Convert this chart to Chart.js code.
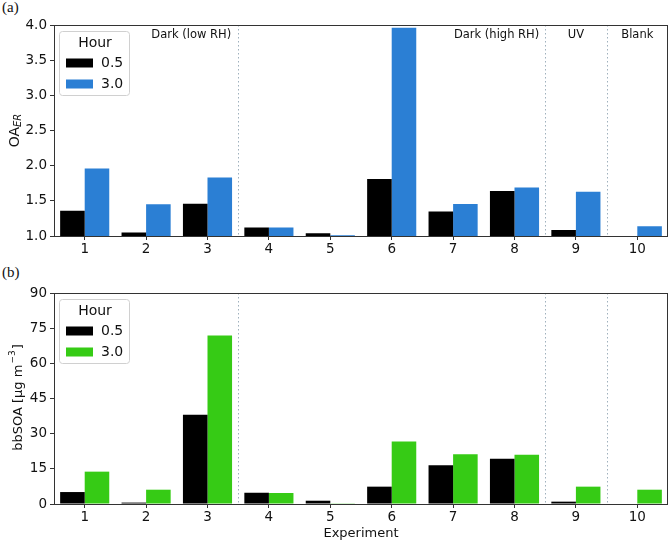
<!DOCTYPE html>
<html>
<head>
<meta charset="utf-8">
<script src="https://cdn.jsdelivr.net/npm/chart.js@4/dist/chart.umd.min.js"></script>
<style>
  html, body { margin: 0; padding: 0; background: #fff; }
  body { width: 670px; height: 543px; position: relative; overflow: hidden; }
  .wrap { position: absolute; left: 0; width: 670px; }
  .panel { position: absolute; left: 2px; font-family: "Liberation Serif", serif; font-size: 15px; color: #111; }
</style>
</head>
<body>
<div class="panel" style="top:-1px;">(a)</div>
<div class="panel" style="top:264px;">(b)</div>
<div class="wrap" style="top:0; height:265px;"><canvas id="c1" width="670" height="265"></canvas></div>
<div class="wrap" style="top:265px; height:278px;"><canvas id="c2" width="670" height="278"></canvas></div>
<script>
// ---- data ----
const experiments = ["1","2","3","4","5","6","7","8","9","10"];
const oaER_05 = [1.36, 1.05, 1.46, 1.12, 1.04, 1.81, 1.35, 1.64, 1.085, null];
const oaER_30 = [1.96, 1.45, 1.83, 1.12, 1.01, 3.96, 1.455, 1.69, 1.63, 1.14];
const bbSOA_05 = [5.1, 0.6, 38.1, 4.8, 1.4, 7.4, 16.5, 19.3, 1.0, null];
const bbSOA_30 = [13.8, 6.1, 71.9, 4.7, 0.3, 26.7, 21.2, 21.0, 7.4, 6.1];
const hourLabels = ["0.5", "3.0"];
const oaTicks = [1.0, 1.5, 2.0, 2.5, 3.0, 3.5, 4.0];
const soaTicks = [0, 15, 30, 45, 60, 75, 90];
const dividerPositions = [3.5, 8.5, 9.5];          // in experiment units
const regionLabels = ["Dark (low RH)", "Dark (high RH)", "UV", "Blank"];

const BLACK = "#000000", BLUE = "#2b7fd4", GREEN = "#36cb15";
const FONT = "'DejaVu Sans', sans-serif";

function expToPixel(xs, e) { return xs.getPixelForValue(e - 1); }

const framePlugin = {
  id: 'frame',
  afterDatasetsDraw(chart, args, opts) {
    const { ctx, chartArea: a, scales } = chart;
    const xs = scales.x;
    ctx.save();
    // dividers
    ctx.strokeStyle = '#9fb0bd';
    ctx.lineWidth = 1;
    ctx.setLineDash([1.5, 2.5]);
    dividerPositions.forEach(d => {
      const px = Math.round(expToPixel(xs, d)) + 0.5;
      ctx.beginPath(); ctx.moveTo(px, a.top); ctx.lineTo(px, a.bottom); ctx.stroke();
    });
    ctx.setLineDash([]);
    // frame
    ctx.strokeStyle = '#333';
    ctx.lineWidth = 1;
    ctx.strokeRect(Math.round(a.left) + 0.5, Math.round(a.top) + 0.5, Math.round(a.right - a.left) - 1, Math.round(a.bottom - a.top));
    // region labels
    if (opts.regions) {
      ctx.fillStyle = '#111';
      ctx.font = "11.5px " + FONT;
      ctx.textBaseline = 'middle';
      const ty = a.top + 10;
      ctx.textAlign = 'right';
      ctx.fillText(regionLabels[0], expToPixel(xs, 3.5) - 7, ty);
      ctx.fillText(regionLabels[1], expToPixel(xs, 8.5) - 6, ty);
      ctx.textAlign = 'center';
      ctx.fillText(regionLabels[2], expToPixel(xs, 9), ty);
      ctx.fillText(regionLabels[3], expToPixel(xs, 10), ty);
    }
    // legend
    const lx = a.left + 5, ly = a.top + 6, lw = 70, lh = 64;
    ctx.fillStyle = 'rgba(255,255,255,0.85)';
    ctx.strokeStyle = '#d0d0d0';
    ctx.lineWidth = 1;
    ctx.beginPath();
    if (ctx.roundRect) ctx.roundRect(lx + 0.5, ly + 0.5, lw, lh, 3); else ctx.rect(lx + 0.5, ly + 0.5, lw, lh);
    ctx.fill(); ctx.stroke();
    ctx.fillStyle = '#111';
    ctx.font = "14px " + FONT;
    ctx.textAlign = 'center';
    ctx.textBaseline = 'middle';
    ctx.fillText('Hour', lx + lw / 2 + 1, ly + 12);
    chart.data.datasets.forEach((ds, i) => {
      const cy = ly + 32 + i * 21;
      ctx.fillStyle = ds.backgroundColor;
      ctx.fillRect(lx + 7, cy - 4.5, 27, 9);
      ctx.fillStyle = '#111';
      ctx.textAlign = 'left';
      ctx.fillText(ds.label, lx + 42, cy);
    });
    // y-axis title
    ctx.save();
    ctx.translate(opts.titleX, (a.top + a.bottom) / 2);
    ctx.rotate(-Math.PI / 2);
    ctx.fillStyle = '#111';
    ctx.textBaseline = 'middle';
    if (opts.ytitle === 'OA') {
      ctx.font = "14px " + FONT;
      const w1 = ctx.measureText('OA').width;
      ctx.font = "italic 10px " + FONT;
      const w2 = ctx.measureText('ER').width;
      const start = -(w1 + w2) / 2;
      ctx.font = "14px " + FONT;
      ctx.textAlign = 'left';
      ctx.fillText('OA', start, 0);
      ctx.font = "italic 10px " + FONT;
      ctx.fillText('ER', start + w1, 3);
    } else {
      ctx.font = "13px " + FONT;
      const base = 'bbSOA [μg m';
      const sup = '−3';
      const close = ']';
      const w1 = ctx.measureText(base).width;
      ctx.font = "9px " + FONT;
      const w2 = ctx.measureText(sup).width;
      ctx.font = "13px " + FONT;
      const w3 = ctx.measureText(close).width;
      const start = -(w1 + w2 + w3) / 2;
      ctx.textAlign = 'left';
      ctx.fillText(base, start, 2);
      ctx.font = "9px " + FONT;
      ctx.fillText(sup, start + w1 + 1, -4);
      ctx.font = "13px " + FONT;
      ctx.fillText(close, start + w1 + w2 + 2, 2);
    }
    ctx.restore();
    if (opts.xtitle) {
      ctx.fillStyle = '#111';
      ctx.font = "13px " + FONT;
      ctx.textAlign = 'center';
      ctx.textBaseline = 'middle';
      ctx.fillText(opts.xtitle, (a.left + a.right) / 2, opts.xtitleY);
    }
    ctx.restore();
  }
};

function makeChart(id, d1, d2, color2, yMin, yMax, step, yw, xh, padTop, pluginOpts) {
  return new Chart(document.getElementById(id), {
    type: 'bar',
    data: {
      labels: experiments,
      datasets: [
        { label: hourLabels[0], data: d1, backgroundColor: BLACK, barPercentage: 1.0, categoryPercentage: 0.8 },
        { label: hourLabels[1], data: d2, backgroundColor: color2, barPercentage: 1.0, categoryPercentage: 0.8 }
      ]
    },
    options: {
      responsive: false,
      animation: false,
      events: [],
      layout: { padding: { top: padTop, right: 2, left: 0, bottom: 0 } },
      plugins: { legend: { display: false }, tooltip: { enabled: false }, frame: pluginOpts },
      scales: {
        x: {
          grid: { display: true, drawOnChartArea: false, drawTicks: true, tickLength: 4, color: '#333', offset: false },
          border: { display: false },
          ticks: { color: '#111', font: { family: FONT, size: 13.5 }, padding: 1, maxRotation: 0 },
          afterFit(s) { s.height = xh; }
        },
        y: {
          min: yMin, max: yMax,
          grid: { display: true, drawOnChartArea: false, drawTicks: true, tickLength: 4, color: '#333' },
          border: { display: false },
          ticks: {
            stepSize: step, color: '#111', font: { family: FONT, size: 13.5 }, padding: 3,
            callback: (v) => pluginOpts.ytitle === 'OA' ? Number(v).toFixed(1) : String(v)
          },
          afterFit(s) { s.width = yw; }
        }
      }
    },
    plugins: [framePlugin]
  });
}

makeChart('c1', oaER_05, oaER_30, BLUE, oaTicks[0], oaTicks[oaTicks.length - 1], 0.5, 54, 29, 25,
  { regions: true, ytitle: 'OA', titleX: 15 });
makeChart('c2', bbSOA_05, bbSOA_30, GREEN, soaTicks[0], soaTicks[soaTicks.length - 1], 15, 54, 39, 28,
  { regions: false, ytitle: 'SOA', titleX: 17, xtitle: 'Experiment', xtitleY: 269 });
</script>
</body>
</html>
